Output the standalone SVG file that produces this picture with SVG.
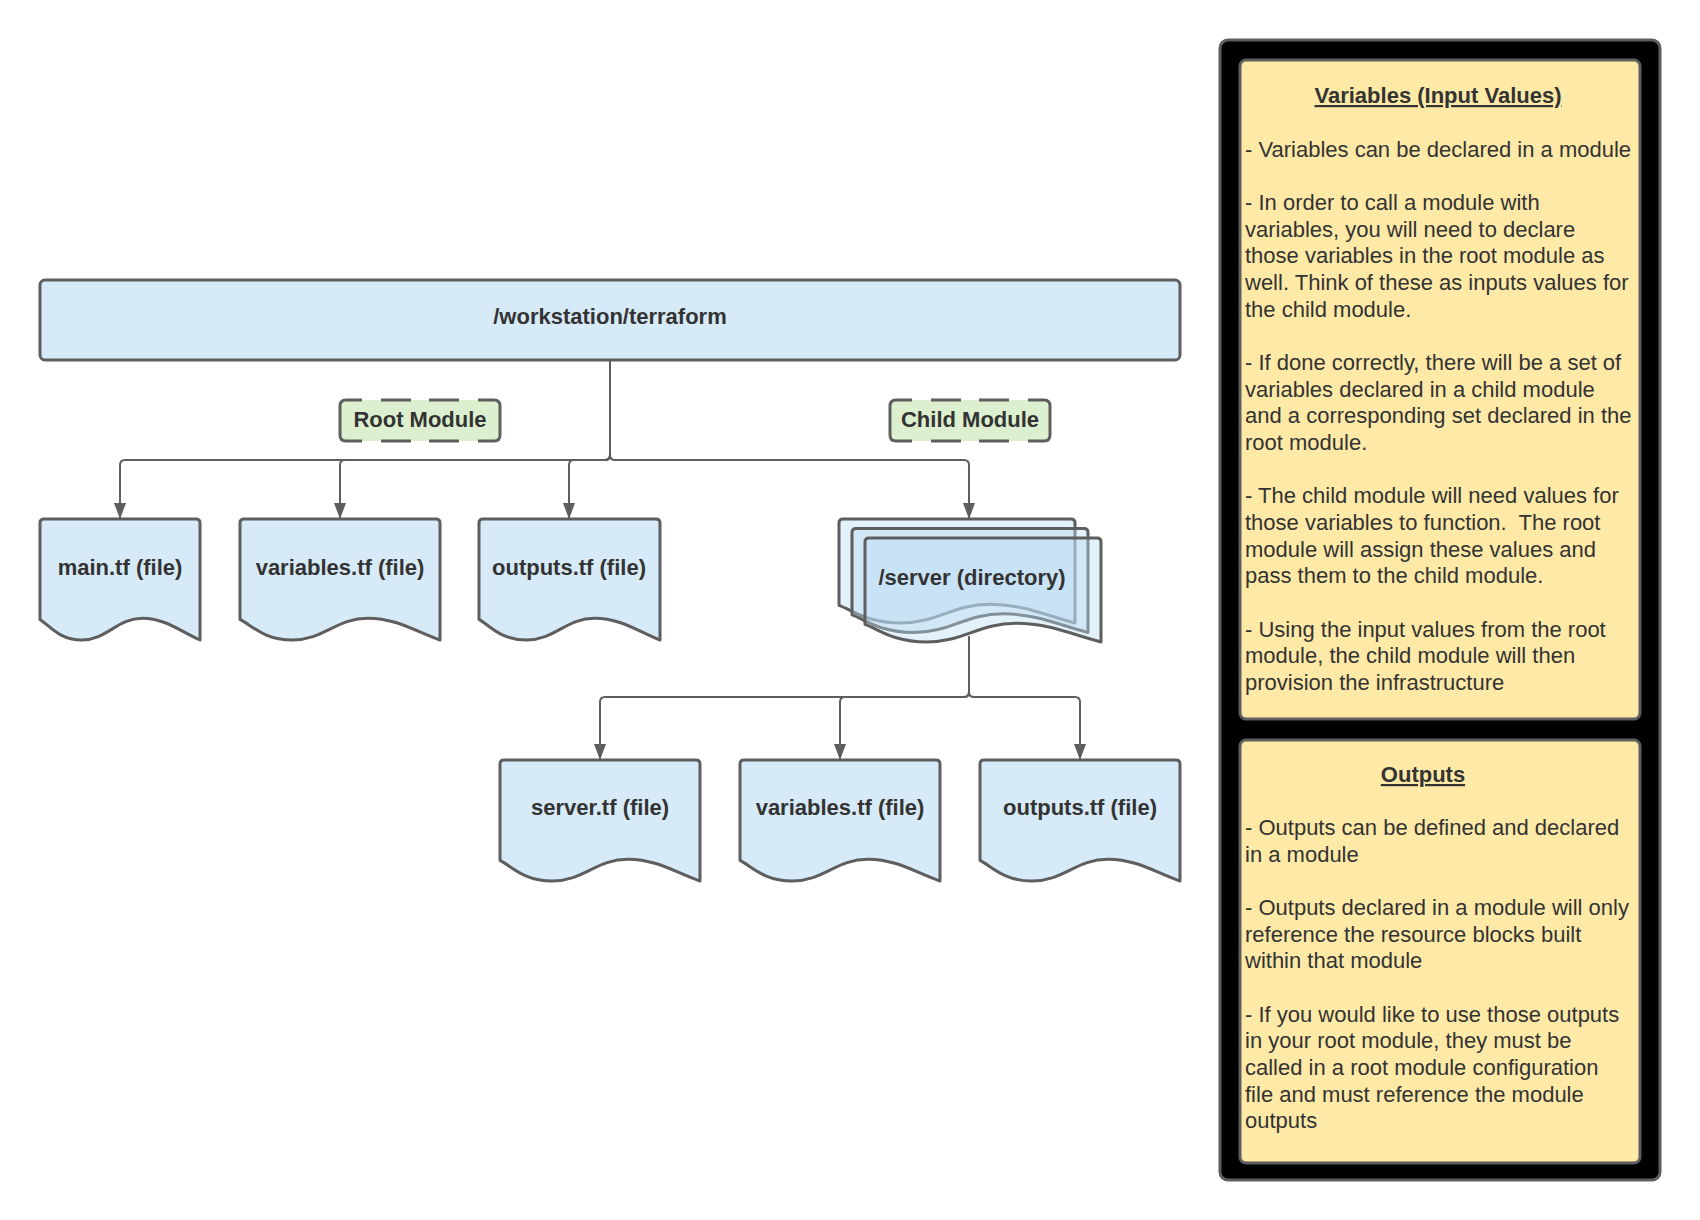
<svg xmlns="http://www.w3.org/2000/svg" width="1700" height="1220" viewBox="0 0 1700 1220">
<style>
.node{fill:#d6eaf8;stroke:#5e5e5e;stroke-width:3;stroke-linejoin:round}
.layer{fill:#b8dcf3;fill-opacity:0.4;stroke:#5e5e5e;stroke-width:3;stroke-linejoin:round}
.tagfill{fill:#dcf0cf}
.tagline{fill:none;stroke:#5e5e5e;stroke-width:3}
.conn{fill:none;stroke:#5e5e5e;stroke-width:2;marker-end:url(#arrow)}
.lbl{font-family:"Liberation Sans",Arial,sans-serif;font-weight:bold;font-size:22px;fill:#333333;text-anchor:middle}
.note{fill:#fee9a6;stroke:#5e5e5e;stroke-width:3}
.body{font-family:"Liberation Sans",Arial,sans-serif;font-size:22px;fill:#333333}
.title{font-family:"Liberation Sans",Arial,sans-serif;font-size:22px;font-weight:bold;fill:#333333;text-anchor:middle;text-decoration:underline}
</style>
<defs>
<marker id="arrow" markerUnits="userSpaceOnUse" viewBox="0 0 16 12" markerWidth="16" markerHeight="12" refX="16" refY="6" orient="auto">
<path d="M0,0 L16,6 L0,12 Z" fill="#5e5e5e"/>
</marker>
<path id="tag-border" class="tagline" d="M22,0 H6 Q0,0 0,6 V35 Q0,41 6,41 H22 M138,0 H154 Q160,0 160,6 V35 Q160,41 154,41 H138 M41,0 H71 M89,0 H119 M41,41 H71 M89,41 H119"/>
</defs>
<rect width="1700" height="1220" fill="#ffffff"/>

<g id="connectors">
<path class="conn" d="M610,360 V455 Q610,460 605,460 H125 Q120,460 120,465 V519"/>
<path class="conn" d="M610,360 V455 Q610,460 605,460 H345 Q340,460 340,465 V519"/>
<path class="conn" d="M610,360 V455 Q610,460 605,460 H574 Q569,460 569,465 V519"/>
<path class="conn" d="M610,360 V455 Q610,460 615,460 H964 Q969,460 969,465 V519"/>
<path class="conn" d="M969,636 V692 Q969,697 964,697 H605 Q600,697 600,702 V760"/>
<path class="conn" d="M969,636 V692 Q969,697 964,697 H845 Q840,697 840,702 V760"/>
<path class="conn" d="M969,636 V692 Q969,697 974,697 H1075 Q1080,697 1080,702 V760"/>
</g>

<g id="workstation">
<rect class="node" x="40" y="280" width="1140" height="80" rx="5"/>
<text class="lbl" x="610" y="324">/workstation/terraform</text>
</g>

<g id="root-module">
<rect class="tagfill" x="340" y="400" width="160" height="41" rx="6"/>
<use href="#tag-border" transform="translate(340,400)"/>
<text class="lbl" x="420" y="427">Root Module</text>
</g>

<g id="child-module">
<rect class="tagfill" x="890" y="400" width="160" height="41" rx="6"/>
<use href="#tag-border" transform="translate(890,400)"/>
<text class="lbl" x="970" y="427">Child Module</text>
</g>

<g id="main-tf">
<path class="node" d="M40,523 Q40,519 44,519 H196 Q200,519 200,523 V640 C180.8,631.5 164.8,618.2 142.4,618.2 C116.8,618.2 107.2,640 81.6,640 C59.2,640 49.6,625.5 40,619.4 Z"/>
<text class="lbl" x="120" y="575">main.tf (file)</text>
</g>

<g id="variables-tf">
<path class="node" d="M240,523 Q240,519 244,519 H436 Q440,519 440,523 V640 C416,631.5 396,618.2 368,618.2 C336,618.2 324,640 292,640 C264,640 252,625.5 240,619.4 Z"/>
<text class="lbl" x="340" y="575">variables.tf (file)</text>
</g>

<g id="outputs-tf">
<path class="node" d="M479,523 Q479,519 483,519 H656 Q660,519 660,523 V640 C638.3,631.5 620.2,618.2 594.8,618.2 C565.9,618.2 555,640 526.1,640 C500.7,640 489.9,625.5 479,619.4 Z"/>
<text class="lbl" x="569" y="575">outputs.tf (file)</text>
</g>

<g id="server-dir">
<path class="layer" d="M839,523 Q839,519 843,519 H1071 Q1075,519 1075,523 V623 C1046.7,615.7 1023.1,604.3 990,604.3 C952.3,604.3 938.1,623 900.4,623 C867.3,623 853.2,610.5 839,605.3 Z"/>
<path class="layer" d="M852,532.5 Q852,528.5 856,528.5 H1084 Q1088,528.5 1088,532.5 V632.5 C1059.7,625.2 1036.1,613.8 1003,613.8 C965.3,613.8 951.1,632.5 913.4,632.5 C880.3,632.5 866.2,620 852,614.8 Z"/>
<path class="layer" d="M865,542 Q865,538 869,538 H1097 Q1101,538 1101,542 V642 C1072.7,634.7 1049.1,623.3 1016,623.3 C978.3,623.3 964.1,642 926.4,642 C893.3,642 879.2,629.5 865,624.3 Z"/>
<text class="lbl" x="972" y="585">/server (directory)</text>
</g>

<g id="server-tf">
<path class="node" d="M500,764 Q500,760 504,760 H696 Q700,760 700,764 V881 C676,872.5 656,859.2 628,859.2 C596,859.2 584,881 552,881 C524,881 512,866.5 500,860.4 Z"/>
<text class="lbl" x="600" y="815">server.tf (file)</text>
</g>

<g id="child-variables-tf">
<path class="node" d="M740,764 Q740,760 744,760 H936 Q940,760 940,764 V881 C916,872.5 896,859.2 868,859.2 C836,859.2 824,881 792,881 C764,881 752,866.5 740,860.4 Z"/>
<text class="lbl" x="840" y="815">variables.tf (file)</text>
</g>

<g id="child-outputs-tf">
<path class="node" d="M980,764 Q980,760 984,760 H1176 Q1180,760 1180,764 V881 C1156,872.5 1136,859.2 1108,859.2 C1076,859.2 1064,881 1032,881 C1004,881 992,866.5 980,860.4 Z"/>
<text class="lbl" x="1080" y="815">outputs.tf (file)</text>
</g>

<g id="notes-panel">
<rect x="1220" y="40" width="440" height="1140" rx="8" fill="#000000" stroke="#5e5e5e" stroke-width="3"/>
</g>

<g id="variables-note">
<rect class="note" x="1240" y="60" width="400" height="659" rx="6"/>
<text class="title" x="1438" y="103">Variables (Input Values)</text>
<text class="body" x="1245" y="157">- Variables can be declared in a module</text>
<text class="body" x="1245" y="210">- In order to call a module with</text>
<text class="body" x="1245" y="237">variables, you will need to declare</text>
<text class="body" x="1245" y="263">those variables in the root module as</text>
<text class="body" x="1245" y="290">well. Think of these as inputs values for</text>
<text class="body" x="1245" y="317">the child module.</text>
<text class="body" x="1245" y="370">- If done correctly, there will be a set of</text>
<text class="body" x="1245" y="397">variables declared in a child module</text>
<text class="body" x="1245" y="423">and a corresponding set declared in the</text>
<text class="body" x="1245" y="450">root module.</text>
<text class="body" x="1245" y="503">- The child module will need values for</text>
<text class="body" x="1245" y="530" xml:space="preserve">those variables to function.  The root</text>
<text class="body" x="1245" y="557">module will assign these values and</text>
<text class="body" x="1245" y="583">pass them to the child module.</text>
<text class="body" x="1245" y="637">- Using the input values from the root</text>
<text class="body" x="1245" y="663">module, the child module will then</text>
<text class="body" x="1245" y="690">provision the infrastructure</text>
</g>

<g id="outputs-note">
<rect class="note" x="1240" y="740" width="400" height="423" rx="6"/>
<text class="title" x="1423" y="782">Outputs</text>
<text class="body" x="1245" y="835">- Outputs can be defined and declared</text>
<text class="body" x="1245" y="862">in a module</text>
<text class="body" x="1245" y="915">- Outputs declared in a module will only</text>
<text class="body" x="1245" y="942">reference the resource blocks built</text>
<text class="body" x="1245" y="968">within that module</text>
<text class="body" x="1245" y="1022">- If you would like to use those outputs</text>
<text class="body" x="1245" y="1048">in your root module, they must be</text>
<text class="body" x="1245" y="1075">called in a root module configuration</text>
<text class="body" x="1245" y="1102">file and must reference the module</text>
<text class="body" x="1245" y="1128">outputs</text>
</g>
</svg>
